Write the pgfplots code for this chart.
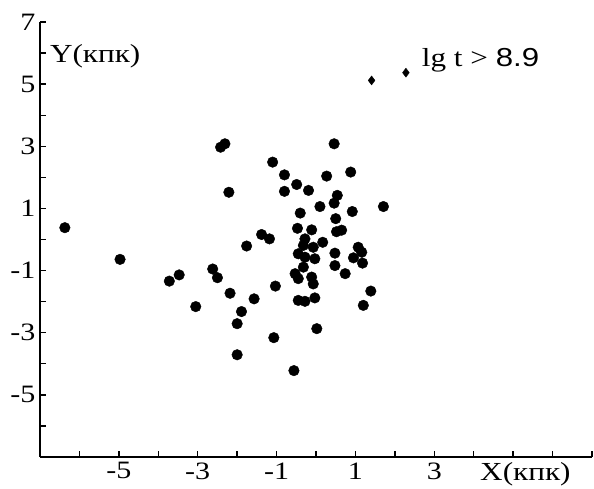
\documentclass[border=0pt]{standalone}
\usepackage{fontspec}
\setmainfont{Liberation Serif}
\newfontfamily\arialf{Liberation Sans}
\usepackage{graphicx}
\usepackage{pgfplots}
\pgfplotsset{compat=1.18}

\pgfplotstableread{
x y
-6.37 0.38
-4.97 -0.64
-3.72 -1.34
-3.47 -1.14
-3.05 -2.16
-2.62 -0.95
-2.50 -1.23
-2.18 -1.73
-1.89 -2.32
-2.00 -2.71
-2.00 -3.71
-1.57 -1.91
-1.76 -0.21
-1.03 -1.50
-1.07 -3.16
-0.56 -4.22
-2.42 2.97
-2.31 3.08
-2.21 1.52
-1.10 2.49
-0.80 2.08
-0.49 1.77
-0.80 1.55
-0.40 0.85
-1.38 0.16
-1.18 0.02
0.46 3.08
0.88 2.17
0.27 2.04
-0.19 1.58
0.54 1.42
0.46 1.17
0.10 1.06
1.71 1.06
0.92 0.90
0.50 0.67
-0.47 0.36
-0.11 0.31
0.52 0.25
0.65 0.30
-0.28 0.02
-0.32 -0.19
-0.07 -0.25
0.17 -0.09
-0.45 -0.46
-0.28 -0.57
-0.03 -0.62
0.48 -0.44
1.07 -0.25
1.16 -0.41
0.95 -0.59
1.18 -0.76
0.48 -0.84
0.74 -1.10
-0.32 -0.89
-0.53 -1.10
-0.45 -1.26
-0.11 -1.21
-0.07 -1.43
1.39 -1.66
-0.45 -1.96
-0.28 -1.99
-0.03 -1.88
1.20 -2.12
0.02 -2.87
}\dots

\pgfplotstableread{
x y
1.41 5.12
2.28 5.37
}\diam

\begin{document}
\begin{tikzpicture}
\begin{axis}[
  scale only axis, width=552bp, height=435bp,
  xmin=-7, xmax=7, ymin=-7, ymax=7,
  axis x line=bottom, axis y line=left,
  axis line style={-, line width=1.6bp},
  xtick={-5,-3,-1,1,3}, minor xtick={-6,-4,-2,0,2,4,5,6,7},
  ytick={-5,-3,-1,1,3,5,7}, minor ytick={-6,-4,-2,0,2,4,6},
  tick align=inside, major tick length=6bp, minor tick length=6bp,
  every tick/.style={line width=1.4bp, black},
  xticklabel={\scalebox{1.2}[1]{\pgfmathprintnumber[assume math mode=true]{\tick}}},
  yticklabel={\scalebox{1.2}[1]{\pgfmathprintnumber[assume math mode=true]{\tick}}},
  ticklabel style={font=\fontsize{25bp}{30bp}\selectfont},
  xticklabel style={yshift=-2bp},
  yticklabel style={xshift=-1bp},
  clip=false,
]
\addplot[only marks, mark=*, mark size=5.3bp, mark options={fill=black, draw=black}] table {\dots};
\addplot[only marks, mark=diamond*, mark size=4.5bp, mark options={fill=black, draw=black}] table {\diam};
\node[anchor=base west, inner sep=0pt, font=\fontsize{26bp}{30bp}\selectfont] at (axis cs:-6.75,5.7) {\scalebox{1.2}[1]{Y(кпк)}};
\node[anchor=base west, inner sep=0pt, font=\fontsize{26bp}{30bp}\selectfont] at (axis cs:4.16,-7.76) {\scalebox{1.2}[1]{X(кпк)}};
\node[anchor=base west, inner sep=0pt, font=\fontsize{26bp}{30bp}\selectfont] at (axis cs:2.68,5.57) {\scalebox{1.2}[1]{lg t > {\arialf 8.9}}};
\coordinate (bl) at (rel axis cs:0,0);
\coordinate (tr) at (rel axis cs:1,1);
\end{axis}
\pgfresetboundingbox
\path ([shift={(-40bp,-32bp)}]bl) rectangle ([shift={(2bp,22bp)}]tr);
\end{tikzpicture}
\end{document}
